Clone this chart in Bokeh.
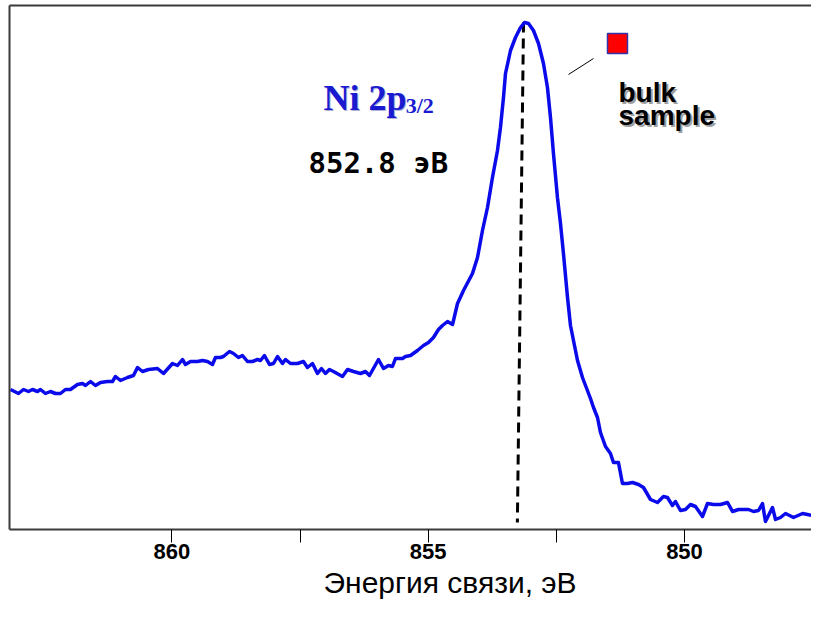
from bokeh.plotting import figure
from bokeh.models import Range1d, FixedTicker, Label, LinearAxis, Title
from bokeh.embed import file_html
from bokeh.resources import INLINE

# Binding energy (eV) and intensity (arb. units)
energy = [863.149, 862.993, 862.895, 862.798, 862.720, 862.622, 862.564, 862.466, 862.369, 862.271,
          862.174, 862.076, 861.978, 861.842, 861.744, 861.686, 861.588, 861.491, 861.393, 861.257,
          861.159, 861.101, 861.003, 860.866, 860.749, 860.671, 860.574, 860.457, 860.281, 860.164,
          859.988, 859.891, 859.793, 859.735, 859.637, 859.501, 859.403, 859.306, 859.208, 859.150,
          859.052, 858.994, 858.877, 858.798, 858.701, 858.623, 858.525, 858.428, 858.330, 858.272,
          858.194, 858.096, 858.018, 857.940, 857.842, 857.784, 857.686, 857.550, 857.433, 857.355,
          857.257, 857.160, 857.082, 857.004, 856.926, 856.848, 856.672, 856.574, 856.457, 856.321,
          856.223, 856.145, 855.970, 855.872, 855.774, 855.697, 855.638, 855.501, 855.443, 855.345,
          855.209, 855.092, 854.994, 854.897, 854.799, 854.721, 854.623, 854.526, 854.506, 854.428,
          854.311, 854.136, 854.038, 853.941, 853.843, 853.746, 853.648, 853.590, 853.531, 853.492,
          853.394, 853.297, 853.199, 853.121, 853.043, 852.946, 852.848, 852.751, 852.673, 852.614,
          852.556, 852.478, 852.419, 852.361, 852.282, 852.224, 852.087, 851.990, 851.834, 851.775,
          851.697, 851.639, 851.541, 851.444, 851.385, 851.288, 851.210, 851.112, 851.014, 850.897,
          850.800, 850.663, 850.527, 850.410, 850.332, 850.234, 850.176, 850.078, 849.980, 849.883,
          849.785, 849.649, 849.551, 849.434, 849.298, 849.160, 849.063, 848.946, 848.751, 848.654,
          848.556, 848.478, 848.420, 848.361, 848.283, 848.224, 848.127, 848.029, 847.873, 847.697,
          847.599, 847.502, 847.385, 847.287, 847.228]
intensity = [140, 136, 140, 138, 140, 138, 140, 136, 138, 136,
             136, 140, 140, 145, 146, 144, 148, 144, 147, 148,
             148, 153, 149, 152, 154, 162, 158, 160, 161, 156,
             166, 164, 170, 165, 168, 168, 169, 168, 165, 172,
             172, 173, 178, 176, 172, 174, 168, 168, 170, 169,
             174, 165, 166, 173, 166, 170, 166, 166, 168, 162,
             166, 156, 161, 156, 160, 158, 153, 160, 158, 156,
             158, 154, 170, 161, 164, 163, 171, 171, 173, 174,
             179, 184, 187, 192, 200, 204, 208, 205, 209, 226,
             239, 256, 272, 299, 322, 352, 379, 402, 432, 456,
             479, 492, 502, 507, 506, 499, 486, 466, 442, 412,
             376, 332, 306, 276, 232, 204, 169, 152, 131, 122,
             112, 97, 83, 76, 67, 67, 46, 46, 47, 45,
             42, 30, 27, 33, 32, 24, 28, 19, 20, 25,
             23, 13, 26, 25, 25, 27, 18, 20, 20, 18,
             19, 26, 8, 14, 22, 10, 12, 16, 12, 16,
             15, 14, 12, 13, 14]

# Peak position marker (dashed line)
peak_line_x = [853.14, 853.26]
peak_line_y = [507, 7]

# Legend marker and leader line
legend_marker_x = [851.307]
legend_marker_y = [486]
leader_x = [852.263, 851.775]
leader_y = [455, 471]

tick_values = [860, 857.5, 855, 852.5, 850, 847.5]
tick_labels = {860: "860", 857.5: "", 855: "855", 852.5: "", 850: "850", 847.5: ""}

x_start, x_end = 863.168, 847.522
y_start, y_end = 0, 524

p = figure(width=811, height=606, frame_width=802, frame_height=524,
           output_backend="svg", toolbar_location=None,
           x_range=Range1d(x_start, x_end), y_range=Range1d(y_start, y_end),
           min_border_left=9, min_border_right=0, min_border_top=5, min_border_bottom=0)
p.outline_line_color = None
p.grid.visible = False
p.background_fill_color = "white"
p.border_fill_color = "white"

frame_color = "#3a3a3a"
ax = p.xaxis[0]
ya = p.yaxis[0]

# left axis: line only
ya.ticker = FixedTicker(ticks=[])
ya.axis_line_color = frame_color
ya.axis_line_width = 2
ya.major_tick_line_color = None
ya.minor_tick_line_color = None

# bottom axis
ax.ticker = FixedTicker(ticks=tick_values)
ax.major_label_overrides = tick_labels
ax.axis_line_color = frame_color
ax.axis_line_width = 2
ax.major_tick_in = 0
ax.major_tick_out = 13
ax.major_tick_line_color = "black"
ax.major_tick_line_width = 1
ax.minor_tick_line_color = None
ax.major_label_text_font = "Liberation Sans"
ax.major_label_text_font_style = "bold"
ax.major_label_text_font_size = "22px"
ax.major_label_text_color = "black"
ax.major_label_standoff = 1

# axis title below, placed right of centre like the original
p.add_layout(Title(text="Энергия связи, эВ", align="left", offset=314, standoff=4,
                   text_font="Liberation Sans", text_font_style="normal",
                   text_font_size="30px", text_color="black"), "below")

# top border: line only
top = LinearAxis(ticker=FixedTicker(ticks=[]), axis_line_color=frame_color, axis_line_width=2,
                 major_tick_line_color=None, minor_tick_line_color=None)
p.add_layout(top, "above")

p.line(peak_line_x, peak_line_y, line_color="black", line_width=3, line_dash="10 6")
p.line(energy, intensity, line_color="#0a0aeb", line_width=3.5, line_join="round")

p.line(leader_x, leader_y, line_color="black", line_width=1)
p.scatter(legend_marker_x, legend_marker_y, marker="square", size=20,
          fill_color="#ff0000", line_color="#3333aa", line_width=1.5)

blue = "#1a1ad0"
p.add_layout(Label(x=857.043, y=432, text="Ni 2p", x_offset=1, y_offset=-1,
                   text_font="Liberation Serif", text_font_style="bold", text_font_size="36px",
                   text_color="#b0b0d8", text_baseline="alphabetic"))
p.add_layout(Label(x=857.043, y=432, text="Ni 2p",
                   text_font="Liberation Serif", text_font_style="bold", text_font_size="36px",
                   text_color=blue, text_baseline="alphabetic"))
p.add_layout(Label(x=855.44, y=424, text="3/2",
                   text_font="Liberation Serif", text_font_style="bold", text_font_size="22px",
                   text_color=blue, text_baseline="alphabetic"))
p.add_layout(Label(x=857.335, y=367, text="852.8 эВ",
                   text_font="DejaVu Sans Mono", text_font_style="bold", text_font_size="29px",
                   text_color="black", text_baseline="alphabetic"))
for txt, yy in (("bulk", 437), ("sample", 414)):
    p.add_layout(Label(x=851.287, y=yy, text=txt, x_offset=2, y_offset=-2,
                       text_font="Liberation Sans", text_font_style="bold", text_font_size="28px",
                       text_color="#a0a0a0", text_baseline="alphabetic"))
    p.add_layout(Label(x=851.287, y=yy, text=txt,
                       text_font="Liberation Sans", text_font_style="bold", text_font_size="28px",
                       text_color="black", text_baseline="alphabetic"))

open("out.html", "w").write(file_html(p, INLINE))
